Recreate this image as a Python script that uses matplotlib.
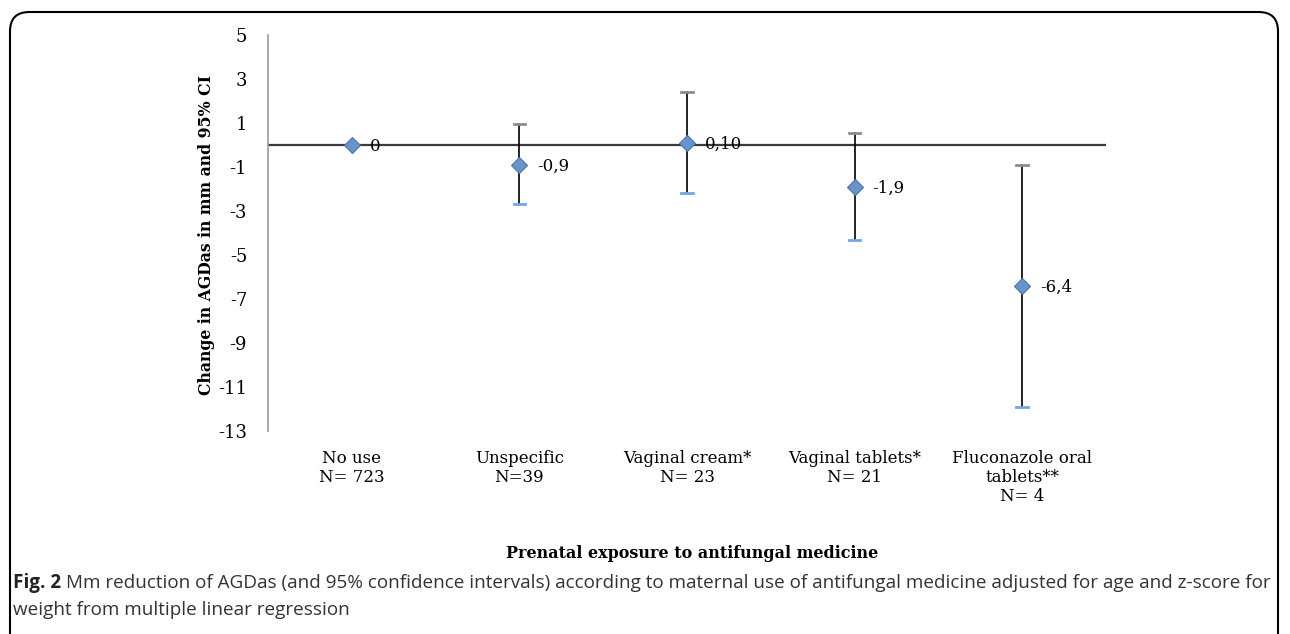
import matplotlib
matplotlib.use("Agg")
import matplotlib.pyplot as plt
from matplotlib.patches import FancyBboxPatch
import numpy as np

categories = ["No use\nN= 723", "Unspecific\nN=39", "Vaginal cream*\nN= 23",
              "Vaginal tablets*\nN= 21", "Fluconazole oral\ntablets**\nN= 4"]
estimates = [0.0, -0.9, 0.10, -1.9, -6.4]
upper_ci = [None, 0.95, 2.4, 0.55, -0.9]
lower_ci = [None, -2.7, -2.2, -4.3, -11.9]
value_labels = ["0", "-0,9", "0,10", "-1,9", "-6,4"]
yticks = [5, 3, 1, -1, -3, -5, -7, -9, -11, -13]

W, H = 1290, 634
fig = plt.figure(figsize=(W / 100, H / 100), dpi=100)

def fx(px):
    return px / W

def fy(py):
    return 1 - py / H

serif = ["DejaVu Serif"]
ax = fig.add_axes([fx(268), fy(431), fx(1106) - fx(268), fy(35) - fy(431)])
ax.set_ylim(-13, 5)
ax.set_xlim(0, len(categories))
xs = np.arange(len(categories)) + 0.5

# zero line
ax.axhline(0, color="#3a3a3a", lw=1.6, zorder=1)

for x, est, up, lo in zip(xs, estimates, upper_ci, lower_ci):
    if up is None:
        continue
    ax.plot([x, x], [lo, up], color="black", lw=1.2, zorder=2)
    ax.plot([x - 0.035, x + 0.035], [up, up], color="#8c8c8c", lw=2, zorder=2)
    ax.plot([x - 0.035, x + 0.035], [lo, lo], color="#6fa8e8", lw=2, zorder=2)

ax.plot(xs, estimates, linestyle="none", marker="D", markersize=8.5,
        markerfacecolor="#6b93c8", markeredgecolor="#4a74ac", markeredgewidth=0.8, zorder=3)

for x, est, lab in zip(xs, estimates, value_labels):
    ax.annotate(lab, (x, est), xytext=(13, -1), textcoords="offset points",
                ha="left", va="center", fontsize=12, family=serif, color="black")

ax.set_yticks(yticks)
ax.set_yticklabels([str(t) for t in yticks], family=serif, fontsize=13)
ax.tick_params(axis="y", length=0, pad=15)
ax.set_xticks(xs)
ax.set_xticklabels(categories, family=serif, fontsize=12, linespacing=1.15, va="top")
ax.tick_params(axis="x", length=0, pad=14)

for s in ["top", "right", "bottom"]:
    ax.spines[s].set_visible(False)
ax.spines["left"].set_color("#999999")
ax.spines["left"].set_linewidth(1.2)

fig.text(fx(206), fy(235), "Change in AGDas in mm and 95% CI", rotation=90,
         ha="center", va="center", family=serif, fontsize=11.3, fontweight="bold")

fig.text(fx(692), fy(553), "Prenatal exposure to antifungal medicine", ha="center", va="center",
         family=serif, fontsize=11.5, fontweight="bold")

cap_font = ["Open Sans", "DejaVu Sans"]
cap_size = 13.6
fig.text(fx(13), fy(583), "Fig. 2", ha="left", va="center", family=cap_font,
         fontsize=cap_size, fontweight="bold", color="#222222")
fig.text(fx(66), fy(583),
         "Mm reduction of AGDas (and 95% confidence intervals) according to maternal use of antifungal medicine adjusted for age and z-score for",
         ha="left", va="center", family=cap_font, fontsize=cap_size, color="#333333")
fig.text(fx(13), fy(610), "weight from multiple linear regression", ha="left", va="center",
         family=cap_font, fontsize=cap_size, color="#333333")

frame = FancyBboxPatch((fx(10), fy(680)), fx(1278) - fx(10), fy(12) - fy(680),
                       boxstyle="round,pad=0,rounding_size=0.015", transform=fig.transFigure,
                       fill=False, edgecolor="black", lw=1.5, mutation_aspect=W / H)
fig.patches.append(frame)

fig.savefig("out.png", dpi=100)
